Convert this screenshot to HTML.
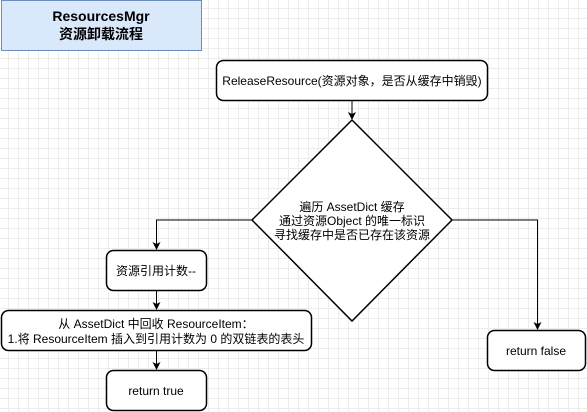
<!DOCTYPE html>
<html><head><meta charset="utf-8"><style>
body{margin:0;width:587px;height:412px;overflow:hidden;background:#fff;
background-image:linear-gradient(#ececec 1px,transparent 1px),linear-gradient(90deg,#ececec 1px,transparent 1px);background-size:10px 10px;background-position:-2px -2px;}
svg{position:absolute;left:0;top:0}
text{font-family:"Liberation Sans","Noto Sans CJK SC",sans-serif;font-size:12px;fill:#000}
</style></head><body>
<svg width="587" height="412" viewBox="0 0 587 412">
<defs><marker id="a" markerWidth="8" markerHeight="8" refX="7" refY="4" orient="auto" markerUnits="userSpaceOnUse"><path d="M0,0 L8,4 L0,8 L2,4 Z" fill="#000"/></marker></defs>
<rect x="1.5" y="0.5" width="200" height="50" fill="#dae8fc" stroke="#6c8ebf"/>
<text x="101" y="21" text-anchor="middle" style="font-size:14px;font-weight:bold">ResourcesMgr</text>
<text x="101" y="39" text-anchor="middle" style="font-size:14px;font-weight:bold">资源卸载流程</text>
<rect x="216.5" y="60.5" width="271" height="40" rx="7" fill="#fff" stroke="#000" stroke-width="1.5"/>
<text x="352" y="85" text-anchor="middle">ReleaseResource(资源对象，是否从缓存中销毁)</text>
<path d="M352 101 V119" stroke="#000" marker-end="url(#a)"/>
<polygon points="352,120 452,220 352,321 252,220" fill="#fff" stroke="#000" stroke-width="1.5"/>
<text x="352" y="211" text-anchor="middle">遍历 AssetDict 缓存</text>
<text x="352" y="225" text-anchor="middle">通过资源Object 的唯一标识</text>
<text x="352" y="239" text-anchor="middle">寻找缓存中是否已存在该资源</text>
<path d="M252 220 H156.5 V249" fill="none" stroke="#000" marker-end="url(#a)"/>
<path d="M452 220 H537.5 V329" fill="none" stroke="#000" marker-end="url(#a)"/>
<rect x="106.5" y="250.5" width="100" height="40" rx="7" fill="#fff" stroke="#000" stroke-width="1.5"/>
<text x="156" y="275" text-anchor="middle">资源引用计数--</text>
<path d="M156.5 291 V309" stroke="#000" marker-end="url(#a)"/>
<rect x="1.5" y="310.5" width="310" height="40" rx="7" fill="#fff" stroke="#000" stroke-width="1.5"/>
<text x="156" y="328" text-anchor="middle">从 AssetDict 中回收 ResourceItem：</text>
<text x="156" y="343" text-anchor="middle">1.将 ResourceItem 插入到引用计数为 0 的双链表的表头</text>
<path d="M156.5 351 V369" stroke="#000" marker-end="url(#a)"/>
<rect x="106.5" y="370.5" width="100" height="40" rx="7" fill="#fff" stroke="#000" stroke-width="1.5"/>
<text x="156" y="395" text-anchor="middle">return true</text>
<rect x="487.5" y="330.5" width="98" height="40" rx="7" fill="#fff" stroke="#000" stroke-width="1.5"/>
<text x="536" y="355" text-anchor="middle">return false</text>
</svg>
</body></html>
